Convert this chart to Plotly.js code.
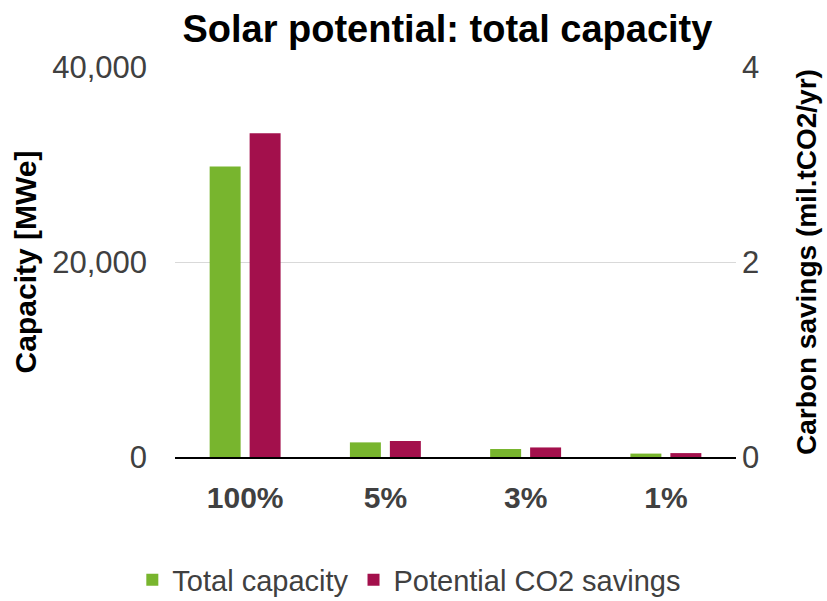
<!DOCTYPE html>
<html>
<head>
<meta charset="utf-8">
<script src="https://cdn.plot.ly/plotly-3.0.1.min.js"></script>
<style>html,body{margin:0;padding:0;background:#fff;}#chart{width:827px;height:601px;}</style>
</head>
<body>
<div id="chart"></div>
<script>
const categories = ["100%", "5%", "3%", "1%"];
const totalCapacity = [29800, 1500, 820, 350];          // MWe
const co2Savings = [3.32, 0.164, 0.098, 0.04];         // mil.tCO2/yr
const leftTicks = [0, 20000, 40000];
const rightTicks = [0, 2, 4];

const green = "#78B52E";
const crimson = "#A3104C";
const font = "Liberation Sans, Arial, sans-serif";

const traces = [
  {type: "bar", name: "Total capacity", x: categories, y: totalCapacity,
   marker: {color: green}, offsetgroup: "a", yaxis: "y", hoverinfo: "none"},
  {type: "bar", name: "Potential CO2 savings", x: categories, y: co2Savings,
   marker: {color: crimson}, offsetgroup: "b", yaxis: "y2", hoverinfo: "none"}
];

const layout = {
  width: 827, height: 601,
  margin: {l: 175, r: 91, t: 67, b: 144, pad: 0},
  paper_bgcolor: "#fff", plot_bgcolor: "#fff",
  font: {family: font, color: "#404040"},
  barmode: "group", bargap: 0.43, bargroupgap: 0.225,
  title: {text: "<b>Solar potential: total capacity</b>", x: 0.541, xanchor: "center",
          y: 0.952, yanchor: "middle", font: {size: 38, color: "#000", family: font}},
  xaxis: {type: "category", automargin: false, tickfont: {size: 30, color: "#404040", family: font},
          showline: true, linecolor: "#000", linewidth: 2, ticks: "", showgrid: false, zeroline: false,
          tickprefix: "<b>", ticksuffix: "</b>", ticklabelstandoff: 13},
  yaxis: {range: [0, 40000], tickvals: leftTicks, tickformat: ",", showgrid: true, gridcolor: "#d9d9d9",
          automargin: false, gridwidth: 1, zeroline: false, showline: false, ticks: "", ticklabelstandoff: 27,
          tickfont: {size: 31, color: "#404040", family: font},
          title: {text: "<b>Capacity [MWe]</b>", standoff: 6, font: {size: 30, color: "#000", family: font}}},
  yaxis2: {range: [0, 4], tickvals: rightTicks, overlaying: "y", side: "right", showgrid: false,
           automargin: false, zeroline: false, showline: false, ticks: "", ticklabelstandoff: 5,
           tickfont: {size: 31, color: "#404040", family: font},
           title: {text: "<b>Carbon savings (mil.tCO2/yr)</b>", standoff: 38, font: {size: 28, color: "#000", family: font}}},
  showlegend: true,
  legend: {orientation: "h", xref: "container", yref: "container", x: 0.16, xanchor: "left",
           y: 0.035, yanchor: "middle",
           font: {size: 29, color: "#404040", family: font}, itemwidth: 30, traceorder: "normal"}
};

Plotly.newPlot("chart", traces, layout, {displayModeBar: false, staticPlot: true});
</script>
</body>
</html>
